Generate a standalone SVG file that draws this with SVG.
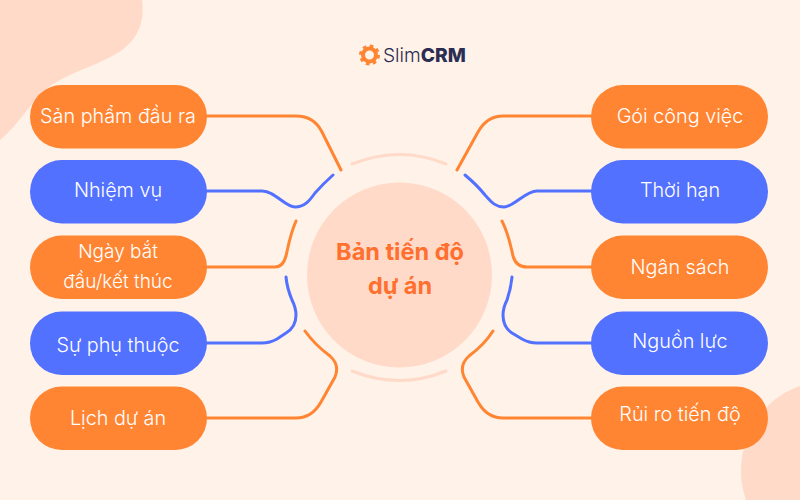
<svg xmlns="http://www.w3.org/2000/svg" width="800" height="500" viewBox="0 0 800 500">
<style>
.n{font-family:"Inter","Liberation Sans",sans-serif;font-size:19.800px;font-weight:300;fill:#fff;text-anchor:middle}
.s{font-size:19px}
.o{fill:#ff8533}.b{fill:#5271ff}
.c{fill:none;stroke-width:3;stroke-linecap:round}
.co{stroke:#ff8533}.cb{stroke:#5271ff}
.a{fill:none;stroke:#ffdac8;stroke-width:3;stroke-linecap:round}
.t{font-family:"Inter","Liberation Sans",sans-serif;font-size:23.500px;font-weight:700;fill:#ff6f2e;text-anchor:middle}
</style>
<rect width="800" height="500" fill="#fff2e8"/>
<path d="M0 0H142C145 22 138 38 122 50C100 65 75 70 53 84C32 98 22 122 0 140Z" fill="#ffdac8"/>
<path d="M800 386C785 391 768 402 756 420C745 437 741 455 741 472C741 482 743 491 746 500H800Z" fill="#ffdac8"/>
<g id="logo">
<circle cx="369.500" cy="55" r="6.500" fill="none" stroke="#ff8533" stroke-width="4"/>
<circle cx="369.500" cy="55" r="9" fill="none" stroke="#ff8533" stroke-width="3" stroke-dasharray="3.500 3.570"/>
<text x="383" y="62" font-family="Inter,'Liberation Sans',sans-serif" font-size="19.200" font-weight="300" fill="#2b2d52">Slim<tspan font-weight="800">CRM</tspan></text>
</g>
<g id="connectors">
<path class="a" d="M352 164Q400 145 446 164"/>
<path class="a" d="M352 371Q400 390 446 371"/>
<path class="c co" d="M207 116H296Q314 116 322 132L341 170"/>
<path class="c cb" d="M207 191H262C275 191 285 207 295 207C305 207 310 200 315 193Q323 184 333 175"/>
<path class="c co" d="M207 267H275Q283 267 286 256C289 243 290 235 296 221"/>
<path class="c cb" d="M207 343H262Q270 343 277 339L286 333Q296 327 296 315Q296 308 292 300Q287 288 286 277"/>
<path class="c co" d="M207 418H296Q312 418 321 402L335 377Q340 365 330 356Q315 345 305 331"/>
<path class="c co" d="M592 116H503Q487 116 478 132L457 170"/>
<path class="c cb" d="M592 191H537C525 191 514 207 504 207C494 207 490 200 485 195Q477 185 465 175"/>
<path class="c co" d="M592 267H527Q516 267 513 256C510 243 509 235 502 221"/>
<path class="c cb" d="M592 343H537Q529 343 522 339L512 333Q503 327 503 315Q503 308 507 300Q511 288 512 277"/>
<path class="c co" d="M592 418H503Q487 418 478 402L464 377Q459 365 469 356Q484 345 493 331"/>
</g>
<g id="center"><circle cx="399.500" cy="275" r="92.500" fill="#ffdac8"/>
<text class="t" x="400" y="260">Bản tiến độ</text>
<text class="t" x="400" y="294">dự án</text></g>
<g id="n1"><rect class="o" x="30" y="85" width="177" height="63.500" rx="31.750"/><text class="n" x="118" y="123">Sản phẩm đầu ra</text></g>
<g id="n2"><rect class="b" x="30" y="160" width="177" height="63.500" rx="31.750"/><text class="n" x="118" y="197">Nhiệm vụ</text></g>
<g id="n3"><rect class="o" x="30" y="235.500" width="177" height="63.500" rx="31.750"/><text class="n s" x="118" y="258">Ngày bắt</text><text class="n s" x="118" y="288">đầu/kết thúc</text></g>
<g id="n4"><rect class="b" x="30" y="311.500" width="177" height="63.500" rx="31.750"/><text class="n" x="118" y="352">Sự phụ thuộc</text></g>
<g id="n5"><rect class="o" x="30" y="386.500" width="177" height="63.500" rx="31.750"/><text class="n" x="118" y="425">Lịch dự án</text></g>
<g id="n6"><rect class="o" x="591" y="85" width="177" height="63.500" rx="31.750"/><text class="n" x="680" y="123">Gói công việc</text></g>
<g id="n7"><rect class="b" x="591" y="160" width="177" height="63.500" rx="31.750"/><text class="n" x="680" y="197">Thời hạn</text></g>
<g id="n8"><rect class="o" x="591" y="235.500" width="177" height="63.500" rx="31.750"/><text class="n" x="680" y="274">Ngân sách</text></g>
<g id="n9"><rect class="b" x="591" y="311.500" width="177" height="63.500" rx="31.750"/><text class="n" x="680" y="348">Nguồn lực</text></g>
<g id="n10"><rect class="o" x="591" y="386.500" width="177" height="63.500" rx="31.750"/><text class="n" x="680" y="421">Rủi ro tiến độ</text></g>
</svg>
